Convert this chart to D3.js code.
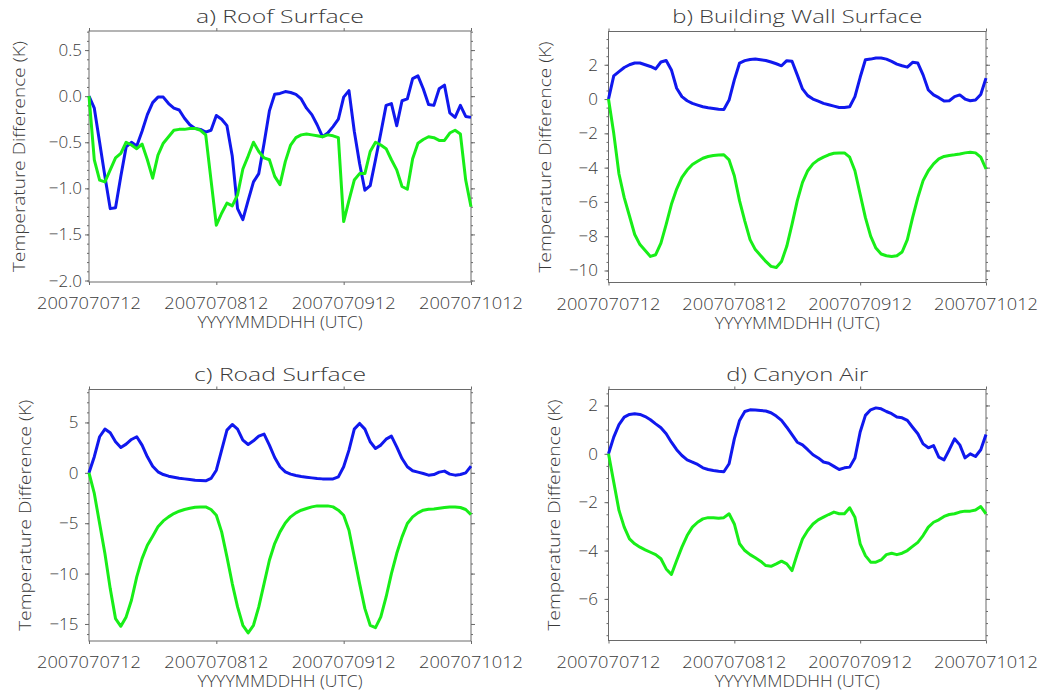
<!DOCTYPE html>
<html>
<head>
<meta charset="utf-8">
<script src="https://cdn.jsdelivr.net/npm/d3@7"></script>
<style>
  body { margin: 0; background: #fff; }
  svg text { font-family: "DejaVu Sans ExtraLight", "Open Sans", "DejaVu Sans", sans-serif; font-weight: 300; fill: #3a3a3a; }
</style>
</head>
<body>
<div id="chart"></div>
<script>
// hourly values, 73 points from 2007070712 to 2007071012
const tickLabels = ['2007070712', '2007070812', '2007070912', '2007071012'];
const tickHours = [0, 24, 48, 72];

const roofBlue = [0, -0.13, -0.5, -0.87, -1.22, -1.21, -0.87, -0.55, -0.5, -0.54, -0.38, -0.2, -0.07, -0.01, -0.01,
  -0.08, -0.13, -0.15, -0.24, -0.31, -0.35, -0.36, -0.39, -0.37, -0.21, -0.25, -0.32, -0.65, -1.22, -1.34,
  -1.13, -0.93, -0.84, -0.51, -0.16, 0.02, 0.03, 0.05, 0.04, 0.02, -0.03, -0.13, -0.2, -0.31, -0.44,
  -0.4, -0.33, -0.25, -0.01, 0.06, -0.38, -0.73, -1.02, -0.97, -0.69, -0.4, -0.1, -0.08, -0.32, -0.05,
  -0.03, 0.19, 0.22, 0.08, -0.09, -0.1, 0.08, 0.12, -0.18, -0.23, -0.1, -0.22, -0.23];
const roofGreen = [0, -0.69, -0.91, -0.93, -0.8, -0.67, -0.62, -0.5, -0.53, -0.57, -0.52, -0.69, -0.89, -0.64, -0.51,
  -0.44, -0.37, -0.36, -0.36, -0.35, -0.35, -0.37, -0.42, -0.91, -1.4, -1.27, -1.16, -1.19, -1.07, -0.79,
  -0.65, -0.5, -0.6, -0.67, -0.69, -0.87, -0.96, -0.71, -0.53, -0.45, -0.42, -0.41, -0.42, -0.43, -0.44,
  -0.42, -0.43, -0.45, -1.36, -1.13, -0.91, -0.84, -0.84, -0.6, -0.5, -0.53, -0.57, -0.69, -0.8, -0.98,
  -1.01, -0.68, -0.51, -0.47, -0.44, -0.45, -0.48, -0.48, -0.4, -0.37, -0.41, -0.91, -1.2];

const wallBlue = [0, 1.35, 1.6, 1.84, 2.0, 2.1, 2.1, 2.0, 1.9, 1.76, 2.16, 2.25, 1.7, 0.63, 0.14,
  -0.1, -0.25, -0.35, -0.45, -0.51, -0.55, -0.59, -0.61, -0.06, 1.12, 2.1, 2.24, 2.31, 2.33, 2.29,
  2.25, 2.16, 2.06, 1.94, 2.24, 2.2, 1.41, 0.59, 0.2, 0, -0.12, -0.25, -0.33, -0.41, -0.49,
  -0.49, -0.45, 0.14, 1.27, 2.29, 2.33, 2.39, 2.39, 2.33, 2.2, 2.04, 1.94, 1.86, 2.14, 2.1,
  1.41, 0.53, 0.24, 0.08, -0.12, -0.1, 0.14, 0.24, 0, -0.1, -0.06, 0.27, 1.22];
const wallGreen = [0, -2.0, -4.37, -5.75, -6.82, -7.9, -8.49, -8.84, -9.18, -9.08, -8.4, -7.31, -6.14, -5.25, -4.57,
  -4.14, -3.82, -3.63, -3.45, -3.35, -3.29, -3.27, -3.25, -3.55, -4.47, -5.94, -7.12, -8.2, -8.78, -9.12,
  -9.47, -9.76, -9.82, -9.47, -8.59, -7.31, -5.94, -4.86, -4.18, -3.78, -3.55, -3.39, -3.25, -3.16, -3.14,
  -3.14, -3.39, -4.18, -5.55, -6.92, -8.0, -8.69, -9.04, -9.14, -9.18, -9.14, -8.92, -8.2, -6.92, -5.75,
  -4.76, -4.18, -3.78, -3.49, -3.35, -3.29, -3.25, -3.2, -3.14, -3.1, -3.14, -3.39, -4.08];

const roadBlue = [0, 1.6, 3.58, 4.34, 3.97, 3.08, 2.52, 2.85, 3.31, 3.58, 2.75, 1.59, 0.66, 0.1, -0.17,
  -0.33, -0.43, -0.53, -0.6, -0.66, -0.73, -0.76, -0.79, -0.56, 0.26, 2.25, 4.24, 4.8, 4.34, 3.25,
  2.81, 3.18, 3.64, 3.84, 2.75, 1.52, 0.6, 0.1, -0.13, -0.26, -0.36, -0.43, -0.5, -0.56, -0.6,
  -0.6, -0.6, -0.4, 0.6, 2.25, 4.34, 4.9, 4.34, 3.08, 2.42, 2.75, 3.34, 3.64, 2.58, 1.42,
  0.6, 0.2, 0.07, -0.07, -0.23, -0.17, 0.07, 0.17, -0.13, -0.23, -0.17, 0, 0.66];
const roadGreen = [0, -2.05, -5.03, -8.01, -11.49, -14.47, -15.23, -14.3, -12.65, -10.33, -8.51, -7.19, -6.29, -5.36, -4.77,
  -4.37, -4.04, -3.81, -3.64, -3.51, -3.41, -3.38, -3.38, -3.64, -4.21, -5.86, -8.34, -10.99, -13.31, -15.13,
  -15.89, -15.13, -13.31, -10.99, -8.68, -7.02, -5.86, -4.97, -4.37, -3.97, -3.71, -3.54, -3.38, -3.28, -3.28,
  -3.28, -3.38, -3.71, -4.21, -5.7, -8.34, -10.99, -13.48, -15.13, -15.36, -14.3, -12.32, -10.0, -8.01, -6.36,
  -5.03, -4.37, -3.97, -3.71, -3.61, -3.58, -3.51, -3.44, -3.38, -3.38, -3.44, -3.64, -4.14];

const canyonBlue = [0, 0.69, 1.21, 1.52, 1.63, 1.66, 1.63, 1.54, 1.41, 1.24, 1.08, 0.83, 0.48, 0.17, -0.07,
  -0.25, -0.34, -0.44, -0.58, -0.65, -0.69, -0.72, -0.74, -0.41, 0.62, 1.38, 1.75, 1.82, 1.81, 1.79,
  1.77, 1.7, 1.56, 1.38, 1.1, 0.79, 0.48, 0.37, 0.17, -0.04, -0.17, -0.34, -0.39, -0.52, -0.65,
  -0.58, -0.55, -0.17, 0.9, 1.59, 1.82, 1.9, 1.86, 1.75, 1.66, 1.52, 1.49, 1.38, 1.1, 0.83,
  0.41, 0.25, 0.34, -0.14, -0.25, 0.17, 0.62, 0.37, -0.17, 0, -0.11, 0.17, 0.8];
const canyonGreen = [0, -1.17, -2.34, -3.03, -3.52, -3.72, -3.86, -3.97, -4.07, -4.17, -4.34, -4.76, -4.99, -4.41, -3.86,
  -3.38, -3.03, -2.83, -2.69, -2.64, -2.64, -2.66, -2.64, -2.48, -2.9, -3.72, -4.0, -4.17, -4.3, -4.44,
  -4.62, -4.65, -4.55, -4.44, -4.55, -4.83, -4.14, -3.52, -3.17, -2.9, -2.73, -2.62, -2.51, -2.41, -2.48,
  -2.48, -2.23, -2.62, -3.72, -4.21, -4.48, -4.48, -4.39, -4.17, -4.11, -4.17, -4.11, -4.0, -3.83, -3.66,
  -3.38, -3.03, -2.83, -2.73, -2.59, -2.51, -2.48, -2.41, -2.37, -2.37, -2.32, -2.18, -2.48];

const titles = ['a) Roof Surface', 'b) Building Wall Surface', 'c) Road Surface', 'd) Canyon Air'];

// layout
const W = 1049, H = 696;
const panels = [
  { title: titles[0], blue: roofBlue, green: roofGreen, ymin: -2.016, ymax: 0.707, major: 0.5, minor: 0.1,
    fmt: d3.format('.1f'), left: 89, right: 471, top: 31, bottom: 282, labGap: 7, ylabOff: 64, titleW: 168 },
  { title: titles[1], blue: wallBlue, green: wallGreen, ymin: -10.7, ymax: 3.94, major: 2, minor: 0.5,
    fmt: d3.format('d'), left: 608.5, right: 986, top: 31.5, bottom: 282.5, labGap: 10.5, ylabOff: 58, titleW: 250 },
  { title: titles[2], blue: roadBlue, green: roadGreen, ymin: -16.69, ymax: 8.27, major: 5, minor: 1,
    fmt: d3.format('d'), left: 89, right: 471, top: 389.5, bottom: 641, labGap: 10.5, ylabOff: 58.5, titleW: 172 },
  { title: titles[3], blue: canyonBlue, green: canyonGreen, ymin: -7.72, ymax: 2.66, major: 2, minor: 0.5,
    fmt: d3.format('d'), left: 608.5, right: 986, top: 389.5, bottom: 640.5, labGap: 10.5, ylabOff: 48.5, titleW: 142 }
];

const svg = d3.select('#chart').append('svg')
  .attr('width', W)
  .attr('height', H);

const minus = s => s.replace('-', '\u2212');
const axisColor = '#6a6a6a';

panels.forEach(p => {
  const x = d3.scaleLinear().domain([0, 72]).range([p.left, p.right]);
  const y = d3.scaleLinear().domain([p.ymin, p.ymax]).range([p.bottom, p.top]);
  const g = svg.append('g');

  const majors = d3.range(Math.ceil(p.ymin / p.major) * p.major, p.ymax + 1e-9, p.major);
  const minors = d3.range(Math.ceil(p.ymin / p.minor - 1e-9) * p.minor, p.ymax + 1e-9, p.minor);

  // y ticks on both sides, pointing out
  g.append('g').attr('transform', `translate(${p.left},0)`)
    .call(d3.axisLeft(y).tickValues(minors).tickSize(2).tickFormat(''));
  g.append('g').attr('transform', `translate(${p.right},0)`)
    .call(d3.axisRight(y).tickValues(minors).tickSize(2).tickFormat(''));
  g.append('g').attr('transform', `translate(${p.left},0)`)
    .call(d3.axisLeft(y).tickValues(majors).tickSize(4).tickFormat(''));
  g.append('g').attr('transform', `translate(${p.right},0)`)
    .call(d3.axisRight(y).tickValues(majors).tickSize(4).tickFormat(''));

  // x ticks bottom and top
  g.append('g').attr('transform', `translate(0,${p.bottom})`)
    .call(d3.axisBottom(x).tickValues(tickHours).tickSize(3).tickFormat(''));
  g.append('g').attr('transform', `translate(0,${p.top})`)
    .call(d3.axisTop(x).tickValues(tickHours).tickSize(3).tickFormat(''));

  g.selectAll('.domain').remove();
  g.selectAll('.tick line').attr('stroke', axisColor);

  // frame
  g.append('rect')
    .attr('x', p.left).attr('y', p.top)
    .attr('width', p.right - p.left).attr('height', p.bottom - p.top)
    .attr('fill', 'none').attr('stroke', axisColor).attr('stroke-width', 1);

  // y tick labels
  g.selectAll('.ylab').data(majors).enter().append('text')
    .attr('x', p.left - p.labGap)
    .attr('y', d => y(d) + 6)
    .attr('text-anchor', 'end')
    .style('font-size', '17px')
    .text(d => minus(p.fmt(Math.abs(d) < 1e-9 ? 0 : d)));

  // x tick labels
  g.selectAll('.xlab').data(tickHours).enter().append('text')
    .attr('x', d => x(d))
    .attr('y', p.bottom + 27)
    .attr('text-anchor', 'middle')
    .attr('textLength', 104).attr('lengthAdjust', 'spacingAndGlyphs')
    .style('font-size', '17px')
    .text((d, i) => tickLabels[i]);

  // axis titles
  g.append('text')
    .attr('x', (p.left + p.right) / 2)
    .attr('y', p.bottom + 46)
    .attr('text-anchor', 'middle')
    .attr('textLength', 165).attr('lengthAdjust', 'spacingAndGlyphs')
    .style('font-size', '16px')
    .text('YYYYMMDDHH (UTC)');

  g.append('text')
    .attr('transform', `translate(${p.left - p.ylabOff},${(p.top + p.bottom) / 2}) rotate(-90)`)
    .attr('text-anchor', 'middle')
    .attr('textLength', 231).attr('lengthAdjust', 'spacingAndGlyphs')
    .style('font-size', '16px')
    .text('Temperature Difference (K)');

  g.append('text')
    .attr('x', (p.left + p.right) / 2)
    .attr('y', p.top - 8.5)
    .attr('text-anchor', 'middle')
    .attr('textLength', p.titleW).attr('lengthAdjust', 'spacingAndGlyphs')
    .style('font-size', '19px')
    .text(p.title);

  const line = d3.line()
    .x((d, i) => x(i))
    .y(d => y(d));

  g.append('path').datum(p.blue)
    .attr('d', line)
    .attr('fill', 'none')
    .attr('stroke', '#1018ee')
    .attr('stroke-width', 3)
    .attr('stroke-linejoin', 'round');

  g.append('path').datum(p.green)
    .attr('d', line)
    .attr('fill', 'none')
    .attr('stroke', '#18ee18')
    .attr('stroke-width', 3)
    .attr('stroke-linejoin', 'round');
});
</script>
</body>
</html>
